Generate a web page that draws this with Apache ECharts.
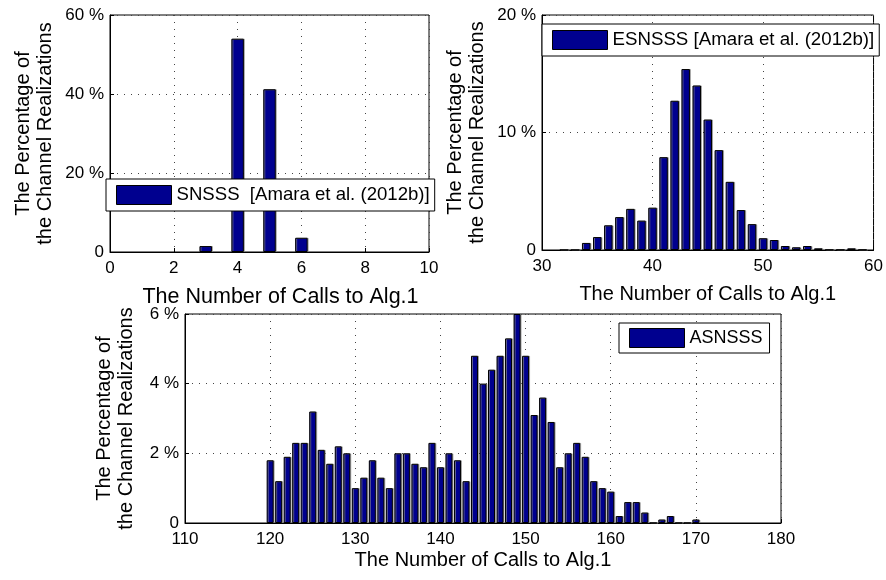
<!DOCTYPE html>
<html>
<head>
<meta charset="utf-8">
<script src="https://cdn.jsdelivr.net/npm/echarts@6/dist/echarts.min.js"></script>
<style>
  html, body { margin: 0; padding: 0; background: #fff; }
  #chart { width: 886px; height: 580px; }
</style>
</head>
<body>
<div id="chart"></div>
<script>
// Number of calls to Alg.1 (x) and share of channel realizations in % (y)
const snsssCalls = [3, 4, 5, 6];
const snsssPct   = [1.5, 54.0, 41.2, 3.6];

const esnsssCalls = [32, 33, 34, 35, 36, 37, 38, 39, 40, 41, 42, 43, 44, 45, 46,
                     47, 48, 49, 50, 51, 52, 53, 54, 55, 56, 57, 58, 59];
const esnsssPct   = [0, 0, 0.6, 1.1, 2.1, 2.8, 3.5, 2.5, 3.6, 7.9, 12.7, 15.4, 14.0, 11.1, 8.5,
                     5.8, 3.4, 2.2, 1.0, 0.85, 0.34, 0.23, 0.34, 0.14, 0.02, 0.02, 0.14, 0.02];

const asnsssCalls = [120, 121, 122, 123, 124, 125, 126, 127, 128, 129,
                     130, 131, 132, 133, 134, 135, 136, 137, 138, 139,
                     140, 141, 142, 143, 144, 145, 146, 147, 148, 149,
                     150, 151, 152, 153, 154, 155, 156, 157, 158, 159,
                     160, 161, 162, 163, 164, 165, 166, 167, 168, 169, 170];
const asnsssPct   = [1.8, 1.2, 1.9, 2.3, 2.3, 3.2, 2.1, 1.7, 2.2, 2.0,
                     1.0, 1.3, 1.8, 1.3, 1.0, 2.0, 2.0, 1.7, 1.6, 2.3,
                     1.6, 2.0, 1.8, 1.2, 4.8, 4.0, 4.4, 4.8, 5.3, 6.0,
                     4.8, 3.1, 3.6, 2.9, 1.6, 2.0, 2.3, 1.9, 1.2, 1.0,
                     0.9, 0.2, 0.6, 0.6, 0.3, 0, 0.1, 0.2, 0, 0, 0.1];

const seriesNames = ['SNSSS  [Amara et al. (2012b)]', 'ESNSSS [Amara et al. (2012b)]', 'ASNSSS'];
const xAxisTitle = 'The Number of Calls to Alg.1';
const yAxisTitle = 'The Percentage of\nthe Channel Realizations';

const FONT = "'Liberation Sans', Arial, Helvetica, sans-serif";
const BAR_FILL = '#00008F';

const pairs = (xs, ys) => xs.map((x, i) => [x, ys[i]]);
const pctLabel = v => (v === 0 ? '0' : v + ' %');

function xAxisOf(gridIndex, min, max, interval, nameGap, nameSize, namePadding) {
  return {
    type: 'value', gridIndex, min, max, interval,
    name: xAxisTitle, nameLocation: 'middle', nameGap,
    nameTextStyle: { fontFamily: FONT, fontSize: nameSize, color: '#000', padding: namePadding },
    axisLine: { show: true, onZero: false, lineStyle: { color: '#000', width: 1 } },
    axisTick: { show: true, inside: true, length: 4, lineStyle: { color: '#000' } },
    axisLabel: { fontFamily: FONT, fontSize: 17, color: '#000', margin: 8 },
    splitLine: { show: true, lineStyle: { color: '#444', width: 1, type: [1, 6] } }
  };
}

function yAxisOf(gridIndex, max, interval, nameGap) {
  return {
    type: 'value', gridIndex, min: 0, max, interval,
    name: yAxisTitle, nameLocation: 'middle', nameGap,
    nameTextStyle: { fontFamily: FONT, fontSize: 20, color: '#000', lineHeight: 22, align: 'center' },
    axisLine: { show: true, lineStyle: { color: '#000', width: 1 } },
    axisTick: { show: true, inside: true, length: 4, lineStyle: { color: '#000' } },
    axisLabel: { fontFamily: FONT, fontSize: 17, color: '#000', margin: 6, formatter: pctLabel },
    splitLine: { show: true, lineStyle: { color: '#444', width: 1, type: [1, 6] } }
  };
}

function barSeries(name, idx, data, barWidth) {
  return {
    name, type: 'bar', xAxisIndex: idx, yAxisIndex: idx, data, barWidth,
    itemStyle: {
      color: BAR_FILL, borderColor: '#000', borderWidth: 1,
      shadowColor: 'rgba(140,140,140,0.7)', shadowOffsetX: 1, shadowBlur: 0
    },
    emphasis: { disabled: true },
    animation: false
  };
}

function legendOf(name, left, top, padding, fontSize) {
  return {
    data: [name], left, top,
    orient: 'horizontal',
    icon: 'rect', itemWidth: 55, itemHeight: 19,
    backgroundColor: '#fff', borderColor: '#000', borderWidth: 1,
    padding, selectedMode: false,
    textStyle: { fontFamily: FONT, fontSize, color: '#000' },
    itemStyle: { color: BAR_FILL, borderColor: '#000', borderWidth: 1 }
  };
}

const chart = echarts.init(document.getElementById('chart'), null, { renderer: 'canvas' });

chart.setOption({
  backgroundColor: '#fff',
  animation: false,
  grid: [
    { left: 110, top: 15, width: 319, height: 237, show: true, borderColor: '#000', borderWidth: 1, backgroundColor: '#fff' },
    { left: 542, top: 15, width: 333, height: 235, show: true, borderColor: '#000', borderWidth: 1, backgroundColor: '#fff' },
    { left: 185, top: 314, width: 596, height: 209, show: true, borderColor: '#000', borderWidth: 1, backgroundColor: '#fff' }
  ],
  xAxis: [
    xAxisOf(0, 0, 10, 2, 34, 21.5, [0, 0, 0, 22]),
    xAxisOf(1, 30, 60, 10, 34, 20, 0),
    xAxisOf(2, 110, 180, 10, 27, 20, 0)
  ],
  yAxis: [
    yAxisOf(0, 60, 20, 54),
    yAxisOf(1, 20, 10, 54),
    yAxisOf(2, 6, 2, 48)
  ],
  legend: [
    legendOf(seriesNames[0], 106, 179, [6, 5, 6, 10], 18.6),
    legendOf(seriesNames[1], 542, 24, [6, 5, 6, 10], 18.7),
    legendOf(seriesNames[2], 619, 323, [5, 7, 5, 10], 18)
  ],
  series: [
    barSeries(seriesNames[0], 0, pairs(snsssCalls, snsssPct), 12.5),
    barSeries(seriesNames[1], 1, pairs(esnsssCalls, esnsssPct), 8.5),
    barSeries(seriesNames[2], 2, pairs(asnsssCalls, asnsssPct), 7)
  ]
});
</script>
</body>
</html>
